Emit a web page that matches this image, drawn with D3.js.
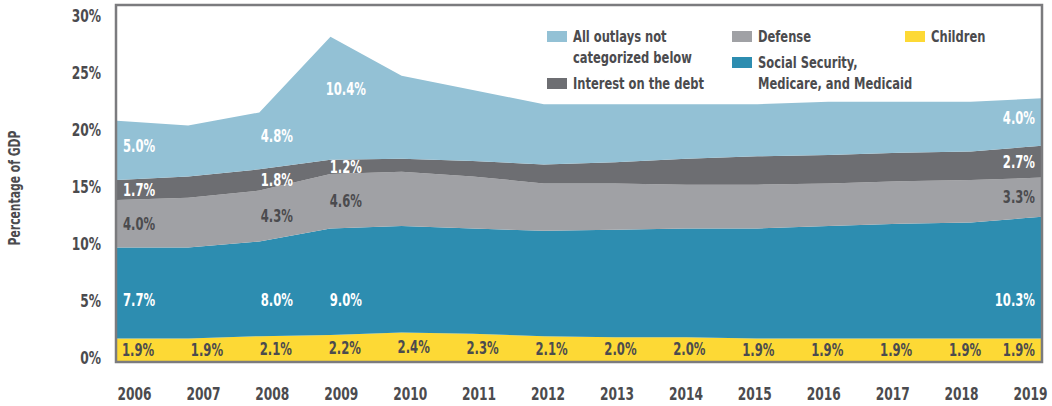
<!DOCTYPE html>
<html>
<head>
<meta charset="utf-8">
<script src="https://cdn.jsdelivr.net/npm/d3@7"></script>
<style>
  body { margin: 0; background: #fff; }
  svg text { font-family: "DejaVu Sans Condensed", "DejaVu Sans", sans-serif; font-weight: bold; font-stretch: condensed; }
</style>
</head>
<body>
<svg id="chart"></svg>
<script>
// --- data (percent of GDP) ---
const years = [2006, 2007, 2008, 2009, 2010, 2011, 2012, 2013, 2014, 2015, 2016, 2017, 2018, 2019];
const children = [1.9, 1.9, 2.1, 2.2, 2.4, 2.3, 2.1, 2.0, 2.0, 1.9, 1.9, 1.9, 1.9, 1.9];
const socialSecurity = [7.7, 7.7, 8.0, 9.0, 9.0, 8.9, 8.9, 9.1, 9.2, 9.3, 9.5, 9.7, 9.8, 10.3];
const defense = [4.0, 4.2, 4.3, 4.6, 4.6, 4.4, 4.0, 3.9, 3.7, 3.7, 3.6, 3.6, 3.6, 3.3];
const interest = [1.7, 1.8, 1.8, 1.2, 1.1, 1.3, 1.6, 1.8, 2.2, 2.4, 2.4, 2.4, 2.4, 2.7];
const other = [5.0, 4.3, 4.8, 10.4, 7.0, 6.0, 5.1, 4.9, 4.6, 4.4, 4.5, 4.3, 4.2, 4.0];
const yTicks = [0, 5, 10, 15, 20, 25, 30];
// years that get a label on the big bands
const labelledYears = [2006, 2008, 2009, 2019];

const series = [
  { key: "children", name: "Children", values: children, color: "#fdd935", text: "#4b4b4e" },
  { key: "ss", name: "Social Security, Medicare, and Medicaid", values: socialSecurity, color: "#2d8db0", text: "#fff" },
  { key: "defense", name: "Defense", values: defense, color: "#a0a1a5", text: "#4b4b4e" },
  { key: "interest", name: "Interest on the debt", values: interest, color: "#6d6e72", text: "#fff" },
  { key: "other", name: "All outlays not categorized below", values: other, color: "#93c1d5", text: "#fff" }
];

const width = 1052, height = 406;
const squeeze = 0.8; // fake a condensed face
const svg = d3.select("#chart").attr("width", width).attr("height", height);

const table = years.map((yr, i) => {
  const row = { year: yr };
  series.forEach(s => row[s.key] = s.values[i]);
  return row;
});

const stack = d3.stack().keys(series.map(s => s.key));
const stacked = stack(table);

const x = d3.scalePoint().domain(years).range([117, 1042]);
const xLab = d3.scalePoint().domain(years).range([134, 1030]);
const y = d3.scaleLinear().domain([0, 30]).range([361, 6]);
const yLab = d3.scaleLinear().domain([0, 30]).range([363, 21]);

const area = d3.area()
  .x(d => x(d.data.year))
  .y0(d => y(d[0]))
  .y1(d => y(d[1]));

svg.append("g")
  .selectAll("path")
  .data(stacked)
  .enter()
  .append("path")
  .attr("d", area)
  .attr("fill", (d, i) => series[i].color);

// frame
svg.append("rect")
  .attr("x", 116).attr("y", 5)
  .attr("width", 926).attr("height", 357)
  .attr("fill", "none")
  .attr("stroke", "#7b7b7e")
  .attr("stroke-width", 2.5);

// y axis
const yAxis = svg.append("g")
  .attr("transform", "translate(101,0)")
  .call(d3.axisLeft(yLab).tickValues(yTicks).tickSize(0).tickPadding(0).tickFormat(d => d + "%"));
yAxis.select(".domain").remove();
yAxis.selectAll("text")
  .attr("dy", 0)
  .attr("transform", `scale(${squeeze},1)`)
  .attr("fill", "#4b4b4e")
  .style("font-size", "17px");

svg.append("text")
  .attr("transform", `translate(20,188) rotate(-90) scale(${squeeze},1)`)
  .attr("text-anchor", "middle")
  .attr("fill", "#4b4b4e")
  .style("font-size", "15px")
  .text("Percentage of GDP");

// x axis
const xAxis = svg.append("g")
  .attr("transform", "translate(0,400)")
  .call(d3.axisBottom(xLab).tickSize(0).tickPadding(0));
xAxis.select(".domain").remove();
xAxis.selectAll("text")
  .attr("dy", 0)
  .attr("y", 0)
  .attr("transform", `scale(${squeeze},1)`)
  .attr("fill", "#4b4b4e")
  .style("font-size", "17px");

// value labels
const last = years.length - 1;
function labelX(i, shift) {
  return i === last ? x(years[last]) - 7 : xLab(years[i]) + shift;
}

const labelGroup = svg.append("g");
stacked.forEach((layer, si) => {
  const s = series[si];
  layer.forEach((d, i) => {
    if (s.key !== "children" && !labelledYears.includes(years[i])) return;
    let v;
    if (s.key === "ss") v = 5.2;
    else if (s.key === "other") v = d[0] + (d[1] - d[0]) * 0.58;
    else v = (d[0] + d[1]) / 2;
    labelGroup.append("text")
      .attr("transform", `translate(${labelX(i, s.key === "children" ? 4 : 5)},${y(v)}) scale(0.76,1)`)
      .attr("dy", "0.36em")
      .attr("text-anchor", i === last ? "end" : "middle")
      .attr("fill", s.text)
      .style("font-size", "17px")
      .text(s.values[i].toFixed(1) + "%");
  });
});

// legend
const legendItems = [
  { s: series[4], x: 547, y: 31, lines: ["All outlays not", "categorized below"] },
  { s: series[3], x: 547, y: 78, lines: ["Interest on the debt"] },
  { s: series[2], x: 732, y: 31, lines: ["Defense"] },
  { s: series[1], x: 732, y: 57, lines: ["Social Security,", "Medicare, and Medicaid"] },
  { s: series[0], x: 905, y: 31, lines: ["Children"] }
];
const legend = svg.append("g");
legendItems.forEach(it => {
  legend.append("rect")
    .attr("x", it.x).attr("y", it.y)
    .attr("width", 20).attr("height", 11)
    .attr("fill", it.s.color);
  const t = legend.append("text")
    .attr("transform", `translate(${it.x + 26},${it.y + 11}) scale(${squeeze},1)`)
    .attr("fill", "#4b4b4e")
    .style("font-size", "16px");
  it.lines.forEach((ln, k) => {
    t.append("tspan").attr("x", 0).attr("dy", k === 0 ? 0 : 21).text(ln);
  });
});
</script>
</body>
</html>
